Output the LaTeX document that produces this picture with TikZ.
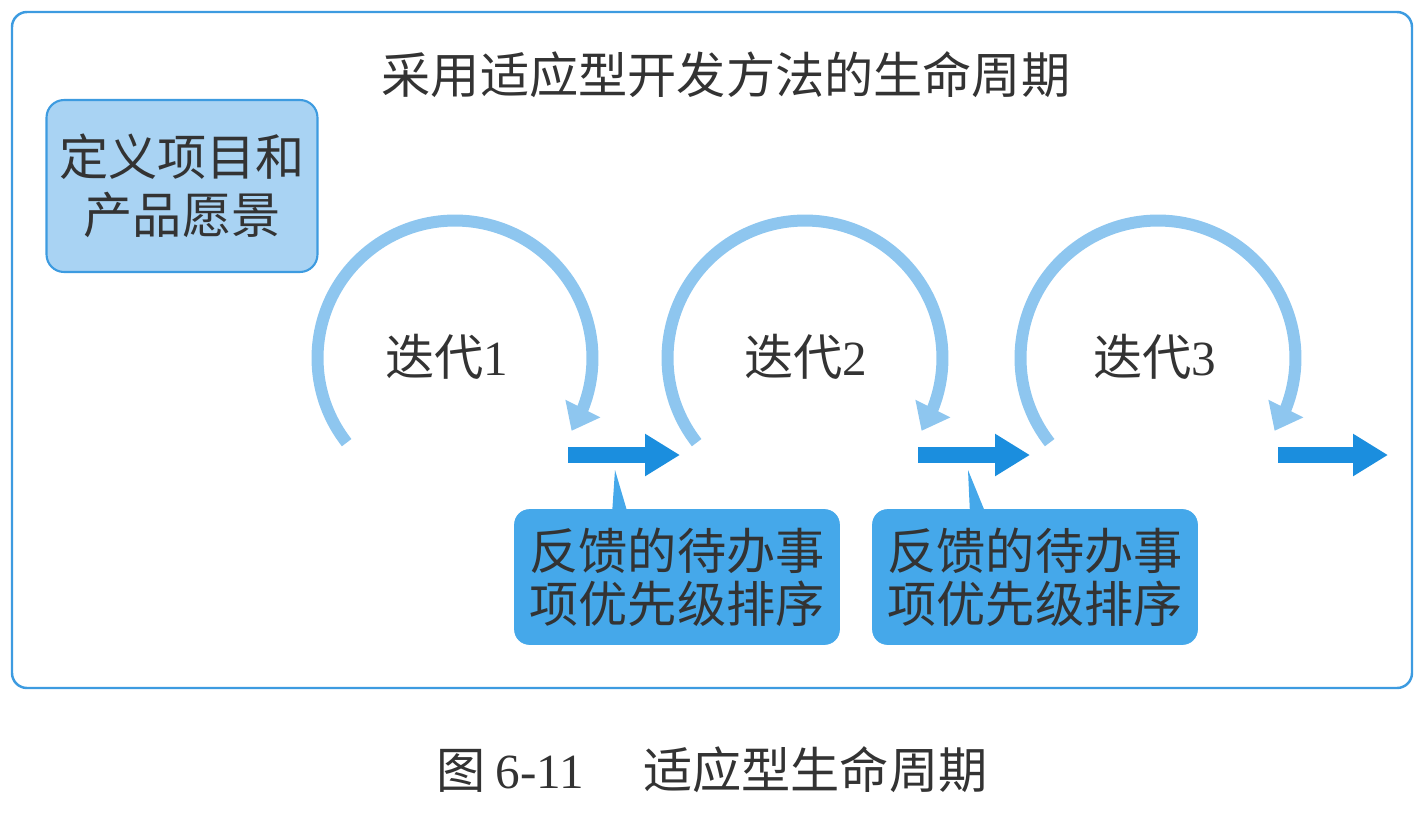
\documentclass[tikz,border=0pt]{standalone}
\usepackage{fontspec}
\setmainfont{Liberation Serif}
\newfontfamily\cjk{Noto Sans CJK SC}
\usetikzlibrary{arrows.meta,positioning,bending}

\definecolor{frameblue}{HTML}{3D9BE0}
\definecolor{visionfill}{HTML}{A9D3F3}
\definecolor{loopblue}{HTML}{8EC6EF}
\definecolor{flowblue}{HTML}{1B8EDE}
\definecolor{feedfill}{HTML}{45A8EA}
\definecolor{textgray}{HTML}{333333}

\begin{document}
\begin{tikzpicture}[
  x=0.02cm, y=-0.02cm,
  txt/.style={font=\cjk\fontsize{28}{33}\selectfont, text=textgray},
  vision/.style={draw=frameblue, line width=1.2pt, fill=visionfill,
    rounded corners=0.35cm, minimum width=5.42cm, minimum height=3.44cm,
    align=center, txt},
  feedback/.style={draw=feedfill, fill=feedfill, rounded corners=0.3cm,
    minimum width=6.5cm, minimum height=2.7cm, align=center, txt,
    font=\cjk\fontsize{28}{30}\selectfont},
  loop/.style={draw=loopblue, line width=0.24cm,
    -{Triangle[length=0.5cm, width=0.75cm, flex]}},
  flow/.style={draw=flowblue, line width=0.32cm,
    -{Triangle[length=0.7cm, width=0.8cm]}},
]
  \useasboundingbox (0,0) rectangle (1421,816);
  \draw[frameblue, line width=1.4pt, rounded corners=0.3cm] (12,12) rectangle (1412,688);

  \node[txt] (title) at (726,75) {采用适应型开发方法的生命周期};
  \node[vision] (vision) at (182,186) {定义项目和\\产品愿景};

  % iterations
  \coordinate (c1) at (455,358);
  \coordinate (c2) at (805,358);
  \coordinate (c3) at (1158,358);
  \foreach \i in {1,2,3} {
    \draw[loop] ([shift={(218:2.75cm)}]c\i) arc[start angle=218, end angle=-32, radius=2.75cm];
  }
  \node[txt] (it1) at (447,357) {迭代{\rmfamily 1}};
  \node[txt] (it2) at (806,357) {迭代{\rmfamily 2}};
  \node[txt] (it3) at (1155,357) {迭代{\rmfamily 3}};

  % flow arrows
  \coordinate (a1s) at (568,455);  \coordinate (a1e) at (680,455);
  \coordinate (a2s) at (918,455);  \coordinate (a2e) at (1030,455);
  \coordinate (a3s) at (1278,455); \coordinate (a3e) at (1388,455);
  \draw[flow] (a1s) -- (a1e);
  \draw[flow] (a2s) -- (a2e);
  \draw[flow] (a3s) -- (a3e);

  % feedback boxes
  \node[feedback] (fb1) at (677,577) {反馈的待办事\\项优先级排序};
  \node[feedback] (fb2) at (1035,577) {反馈的待办事\\项优先级排序};
  \coordinate (p1) at (615,470);
  \coordinate (p2) at (968,470);
  \fill[feedfill] ([xshift=-1.3cm, yshift=-0.1cm]fb1.north) -- (p1) -- ([xshift=-0.98cm, yshift=-0.1cm]fb1.north) -- cycle;
  \fill[feedfill] ([xshift=-1.3cm, yshift=-0.1cm]fb2.north) -- (p2) -- ([xshift=-0.98cm, yshift=-0.1cm]fb2.north) -- cycle;

  \node[txt] (caption) at (712,770) {图\hspace{0.2em}{\rmfamily 6-11}\hspace{1.2em}适应型生命周期};
\end{tikzpicture}
\end{document}
